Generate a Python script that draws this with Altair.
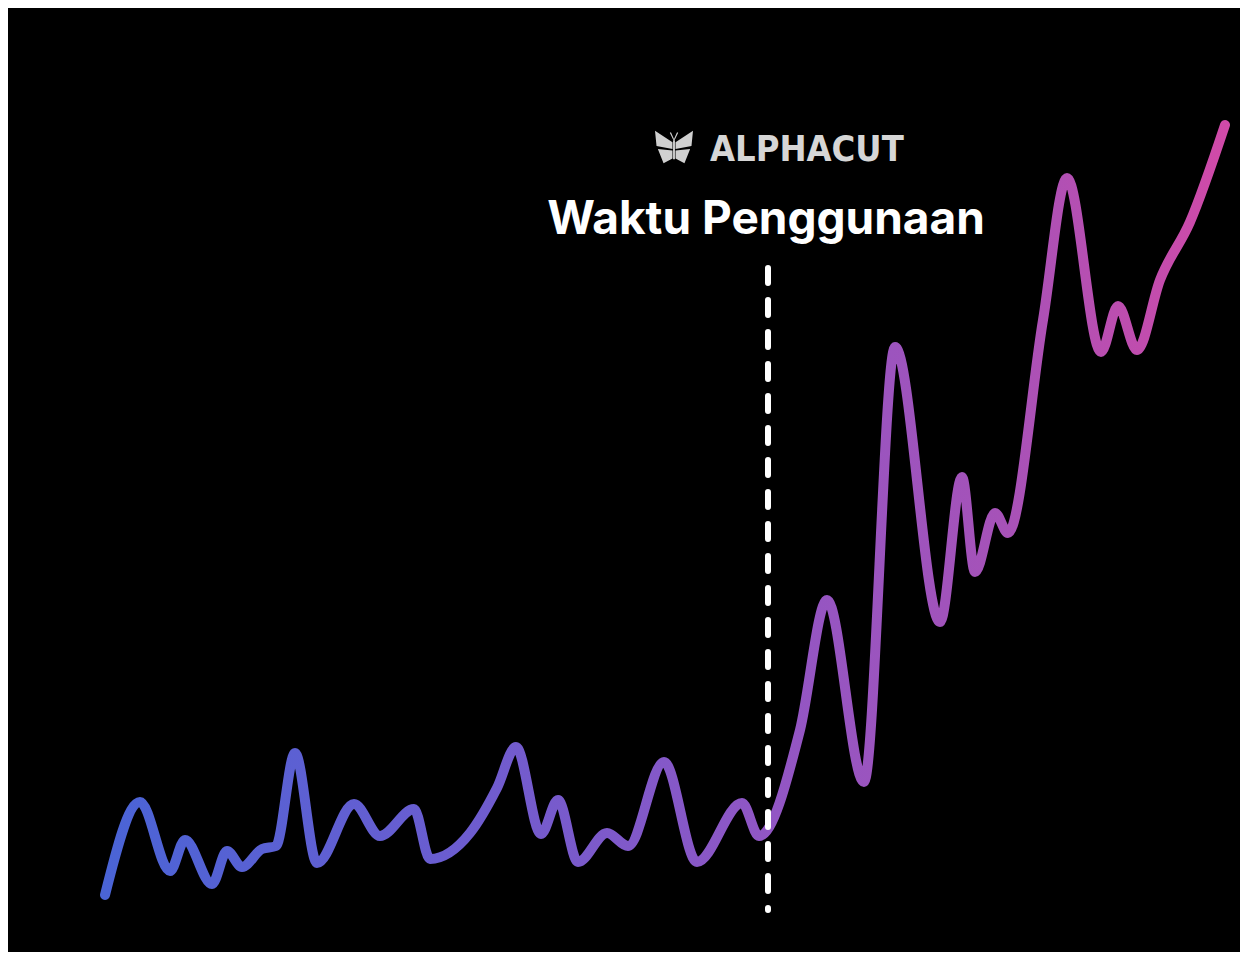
import altair as alt
import pandas as pd

# Time (arbitrary units along the timeline) and usage value readings
waktu = [0, 35, 65, 80, 107, 122, 137, 157, 171, 190, 212, 249, 275, 309, 325,
         365, 392, 411, 436, 453, 473, 502, 523, 559, 592, 637, 654, 695, 722,
         759, 790, 835, 857, 870, 890, 903, 938, 962, 996, 1013, 1032, 1055,
         1085, 1120]
penggunaan = [5, 98, 29, 60, 16, 49, 33, 51, 54, 147, 37, 96, 64, 91, 41,
              67, 112, 153, 66, 100, 38, 67, 54, 138, 38, 97, 64, 170, 300,
              118, 553, 278, 423, 328, 387, 367, 580, 722, 548, 594, 550, 620,
              678, 775]

marker_waktu = [663]
judul = "Waktu Penggunaan"
merek = "ALPHACUT"

df = pd.DataFrame({"waktu": waktu, "penggunaan": penggunaan})
df_marker = pd.DataFrame({"waktu": marker_waktu})

xscale = alt.Scale(domain=[-97, 1135], nice=False, zero=False)
yscale = alt.Scale(domain=[-52, 892], nice=False, zero=False)

grad = alt.Gradient(
    gradient="linear",
    stops=[
        alt.GradientStop(color="#4a64d6", offset=0),
        alt.GradientStop(color="#6a5dd0", offset=0.3),
        alt.GradientStop(color="#9256c4", offset=0.6),
        alt.GradientStop(color="#a652b8", offset=0.8),
        alt.GradientStop(color="#d04aa8", offset=1),
    ],
    x1=0, x2=1, y1=0, y2=0,
)

line = alt.Chart(df).mark_line(
    stroke=grad, strokeWidth=10, interpolate="monotone",
    strokeCap="round", strokeJoin="round"
).encode(
    x=alt.X("waktu:Q", scale=xscale, axis=None),
    y=alt.Y("penggunaan:Q", scale=yscale, axis=None),
)

rule = alt.Chart(df_marker).mark_rule(
    color="white", strokeWidth=6, strokeDash=[15, 17], strokeCap="round"
).encode(
    x=alt.X("waktu:Q", scale=xscale, axis=None),
    y=alt.value(260),
    y2=alt.value(902),
)

title = alt.Chart(pd.DataFrame({"t": [judul]})).mark_text(
    font="Inter", fontWeight="bold", fontSize=46, color="white",
    align="center", baseline="alphabetic"
).encode(x=alt.value(758), y=alt.value(226), text="t:N")

brand = alt.Chart(pd.DataFrame({"t": [merek]})).mark_text(
    font="'Liberation Sans Narrow', 'Arial Narrow', 'DejaVu Sans Condensed', 'Roboto Condensed', Roboto, sans-serif",
    fontWeight="bold", fontSize=36,
    color="#d6d6d6", align="left", baseline="alphabetic"
).encode(x=alt.value(702), y=alt.value(153), text="t:N")

butterfly_path = (
    "M -0.08 -0.25 L -1 -0.85 L -0.92 -0.05 L -0.08 0.1 Z "
    "M 0.08 -0.25 L 1 -0.85 L 0.92 -0.05 L 0.08 0.1 Z "
    "M -0.08 0.18 L -0.85 0.1 L -0.55 0.85 L -0.08 0.6 Z "
    "M 0.08 0.18 L 0.85 0.1 L 0.55 0.85 L 0.08 0.6 Z "
    "M -0.05 -0.35 L 0.05 -0.35 L 0.05 0.65 L -0.05 0.65 Z "
    "M -0.03 -0.35 L -0.22 -0.75 L -0.16 -0.77 L 0.01 -0.4 Z "
    "M 0.03 -0.35 L 0.22 -0.75 L 0.16 -0.77 L -0.01 -0.4 Z"
)
icon = alt.Chart(pd.DataFrame({"i": [0]})).mark_point(
    shape=butterfly_path, filled=True, color="#d0d0d0", opacity=1,
    strokeWidth=0, size=1444
).encode(x=alt.value(666), y=alt.value(139))

chart = alt.layer(line, rule, title, brand, icon).properties(
    width=1232, height=944, background="black",
    autosize=alt.AutoSizeParams(type="none"), padding=0
).configure_view(stroke=None)

chart.save("out.html", embed_options={"renderer": "svg", "actions": False})
